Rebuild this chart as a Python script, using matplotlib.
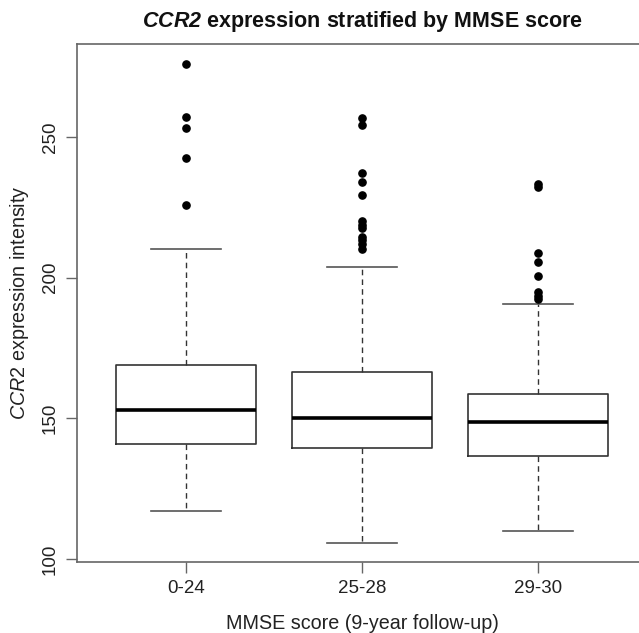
import matplotlib
matplotlib.use("Agg")
import matplotlib.pyplot as plt
import numpy as np

plt.rcParams['font.family'] = ['Liberation Sans', 'DejaVu Sans']
plt.rcParams['mathtext.fontset'] = 'custom'
plt.rcParams['mathtext.rm'] = 'Liberation Sans'
plt.rcParams['mathtext.it'] = 'Liberation Sans:italic'
plt.rcParams['mathtext.bf'] = 'Liberation Sans:bold'
plt.rcParams['mathtext.bfit'] = 'Liberation Sans:italic:bold'

# groups and box statistics
groups = ['0-24', '25-28', '29-30']
q1 = [141.0, 139.6, 136.5]
med = [153.0, 150.2, 148.6]
q3 = [169.0, 166.6, 158.5]
whislo = [117.2, 105.6, 110.1]
whishi = [210.2, 203.8, 190.6]
outliers = [
    [276.0, 257.2, 253.3, 242.4, 225.8],
    [256.8, 254.3, 237.1, 234.1, 229.4, 220.2, 218.8, 217.6, 214.6, 213.4, 212.0, 210.1],
    [233.3, 232.4, 208.7, 205.7, 200.7, 195.0, 193.6, 192.4],
]
yticks = [100, 150, 200, 250]

stats = []
for i in range(len(groups)):
    stats.append(dict(med=med[i], q1=q1[i], q3=q3[i], whislo=whislo[i],
                      whishi=whishi[i], fliers=outliers[i], label=groups[i]))

fig = plt.figure(figsize=(6.39, 6.33), dpi=100)
# plot region runs past the right edge of the picture, like the cropped original
ax = fig.add_axes([77/639, 1 - 562/633, 570/639, 518/633])

edge = '#333333'
ax.bxp(stats, positions=[1, 2, 3], widths=0.8, showfliers=True,
       boxprops=dict(color=edge, linewidth=1.2),
       medianprops=dict(color='black', linewidth=2.6, solid_capstyle='butt'),
       whiskerprops=dict(color=edge, linewidth=1.0, linestyle=(0, (4, 3))),
       capprops=dict(color='#555555', linewidth=1.2),
       flierprops=dict(marker='o', markerfacecolor='black', markeredgecolor='black',
                       markersize=5.2, linestyle='none'),
       capwidths=0.4)

ax.set_xlim(0.38, 3.62)
ax.set_ylim(98.9, 283.1)
ax.set_yticks(yticks)
ax.set_yticklabels([str(v) for v in yticks], rotation=90, va='center')
ax.set_xticks([1, 2, 3])
ax.set_xticklabels(groups)

for s in ['left', 'bottom', 'top']:
    ax.spines[s].set_color('#666666')
    ax.spines[s].set_linewidth(1.2)
ax.spines['right'].set_visible(False)
ax.tick_params(axis='both', direction='out', length=8, width=1.0, color='#666666',
               labelsize=13.5, labelcolor='#222222', pad=5)

ax.set_xlabel('MMSE score (9-year follow-up)', fontsize=14.2, color='#222222', labelpad=12)
ax.set_ylabel(r'$\mathit{CCR2}$ expression intensity', fontsize=14.2, color='#222222', labelpad=8)

fig.text(362/639, 1 - 22/633, r'$\mathbfit{CCR2}$ expression stratified by MMSE score',
         ha='center', va='center', fontsize=15.5, fontweight='bold', color='#111111')

fig.savefig('out.png', dpi=100)
